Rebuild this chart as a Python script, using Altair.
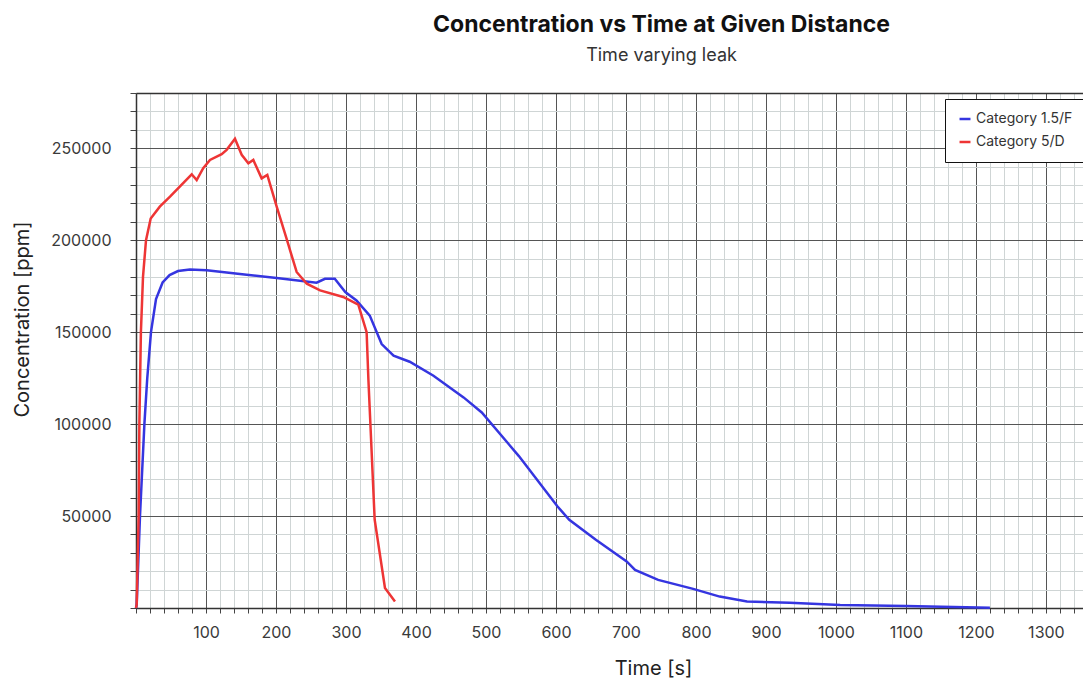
import altair as alt
import pandas as pd

# ---- data ----
series_names = ["Category 1.5/F", "Category 5/D"]
series_colors = ["#3535e0", "#ee3535"]

cat_f_time = [0, 1, 5.7, 12, 16, 21.4, 28.6, 38, 48, 60, 77, 101, 158, 201, 258, 270,
              284, 299, 315, 334, 351, 368, 391, 425, 468, 494, 547, 602, 619, 657,
              701, 713, 746, 796, 834, 873, 934, 1006, 1100, 1220]
cat_f_conc = [0, 2000, 50000, 100000, 124500, 150000, 168000, 177000, 181000, 183200,
              184100, 183600, 181200, 179400, 176900, 179000, 179000, 171800, 167200,
              159000, 143500, 137200, 133900, 126300, 114500, 106300, 82600, 55300,
              48000, 37100, 25300, 20700, 15300, 10400, 6200, 3500, 2900, 1600, 1100, 200]

cat_d_time = [0, 1, 3.8, 4.8, 7, 10, 14.3, 21, 34, 48.6, 79.6, 86.7, 96, 105.7, 122.4,
              129.5, 141.4, 151, 160.5, 167.6, 179.5, 187.6, 201, 215, 229.5, 244, 263,
              296, 317.6, 329.5, 332, 341, 355.7, 370]
cat_d_conc = [0, 2000, 50000, 100000, 150000, 180000, 200000, 211800, 218200, 223600,
              235800, 232700, 239100, 243600, 246700, 249100, 255100, 246400, 241800,
              243600, 233600, 235500, 218200, 200900, 182700, 176300, 172700, 169100,
              164900, 150000, 124500, 48000, 10900, 3600]

x_tick_values = list(range(0, 1361, 20))
y_tick_values = list(range(0, 280001, 10000))

rows = []
for name, ts, cs in [(series_names[0], cat_f_time, cat_f_conc),
                     (series_names[1], cat_d_time, cat_d_conc)]:
    for i, (t, c) in enumerate(zip(ts, cs)):
        rows.append({"series": name, "time": t, "conc": c, "idx": i})
df = pd.DataFrame(rows)

FONT = "Inter"
TXT = "#3a3a3a"
MAJOR = "#555555"
MINOR = "#cfd5d5"
W = 947
H = 515

x_scale = alt.Scale(domain=[0, 1353], nice=False, zero=False)
y_scale = alt.Scale(domain=[0, 280000], nice=False)

x_axis = alt.Axis(
    values=x_tick_values,
    format="d",
    labelExpr="datum.value % 100 === 0 && datum.value > 0 ? datum.label : ''",
    labelFlush=False,
    labelOverlap=False,
    labelFontSize=16,
    labelColor=TXT,
    labelFont=FONT,
    labelPadding=11,
    tickSize=5,
    tickColor="#444",
    gridColor={"condition": {"test": "datum.value % 100 === 0", "value": MAJOR}, "value": MINOR},
    gridWidth=1,
    title="Time [s]",
    titleFont=FONT,
    titleFontSize=20,
    titleFontWeight="normal",
    titleColor="#222",
    titleX=517,
    titleY=60,
    titleAlign="center",
    titleBaseline="middle",
)

y_axis = alt.Axis(
    values=y_tick_values,
    format="d",
    labelExpr="datum.value % 50000 === 0 && datum.value > 0 ? datum.label : ''",
    labelFlush=False,
    labelOverlap=False,
    labelFontSize=16,
    labelColor=TXT,
    labelFont=FONT,
    labelPadding=19,
    tickSize=6,
    tickColor="#444",
    gridColor={"condition": {"test": "datum.value % 50000 === 0", "value": MAJOR}, "value": MINOR},
    gridWidth=1,
    title="Concentration [ppm]",
    titleFont=FONT,
    titleFontSize=20,
    titleFontWeight="normal",
    titleColor="#222",
    titleX=-114,
    titleY=226,
    titleAlign="center",
    titleBaseline="middle",
)

color_enc = alt.Color(
    "series:N",
    scale=alt.Scale(domain=series_names, range=series_colors),
    legend=alt.Legend(
        title=None,
        orient="none",
        legendX=809,
        legendY=6,
        fillColor="white",
        strokeColor="#111",
        padding=13,
        symbolType="stroke",
        symbolStrokeWidth=2.5,
        symbolSize=120,
        labelFontSize=14,
        labelFont=FONT,
        labelColor="#333",
        rowPadding=9,
        cornerRadius=0,
    ),
)

lines = alt.Chart(df).mark_line(strokeWidth=2.5).encode(
    x=alt.X("time:Q", scale=x_scale, axis=x_axis),
    y=alt.Y("conc:Q", scale=y_scale, axis=y_axis),
    color=color_enc,
    order=alt.Order("idx:Q"),
)

# invisible copy of the lines, only to carry a top axis line (plot frame)
frame = alt.Chart(df).mark_line(opacity=0).encode(
    x=alt.X("time:Q", scale=x_scale,
            axis=alt.Axis(orient="top", labels=False, ticks=False, grid=False,
                          domain=True, title="")),
    y=alt.Y("conc:Q", scale=y_scale, axis=y_axis),
    color=color_enc,
    order=alt.Order("idx:Q"),
)

chart = alt.layer(lines, frame).resolve_axis(x="independent").properties(
    width=W,
    height=H,
    autosize=alt.AutoSizeParams(type="none"),
    padding={"left": 128, "top": 85, "right": 0, "bottom": 70},
    title=alt.TitleParams(
        "Concentration vs Time at Given Distance",
        subtitle="Time varying leak",
        anchor="middle",
        dx=52,
        font=FONT,
        fontSize=23,
        fontWeight="bold",
        color="#111",
        subtitleFont=FONT,
        subtitleFontSize=18,
        subtitleColor="#333",
        subtitlePadding=10,
        offset=20,
    ),
).configure_view(
    strokeWidth=0
).configure_axis(
    domainColor="#333", domainWidth=1.5
)

chart.save("out.html", embed_options={"renderer": "svg", "actions": False})
